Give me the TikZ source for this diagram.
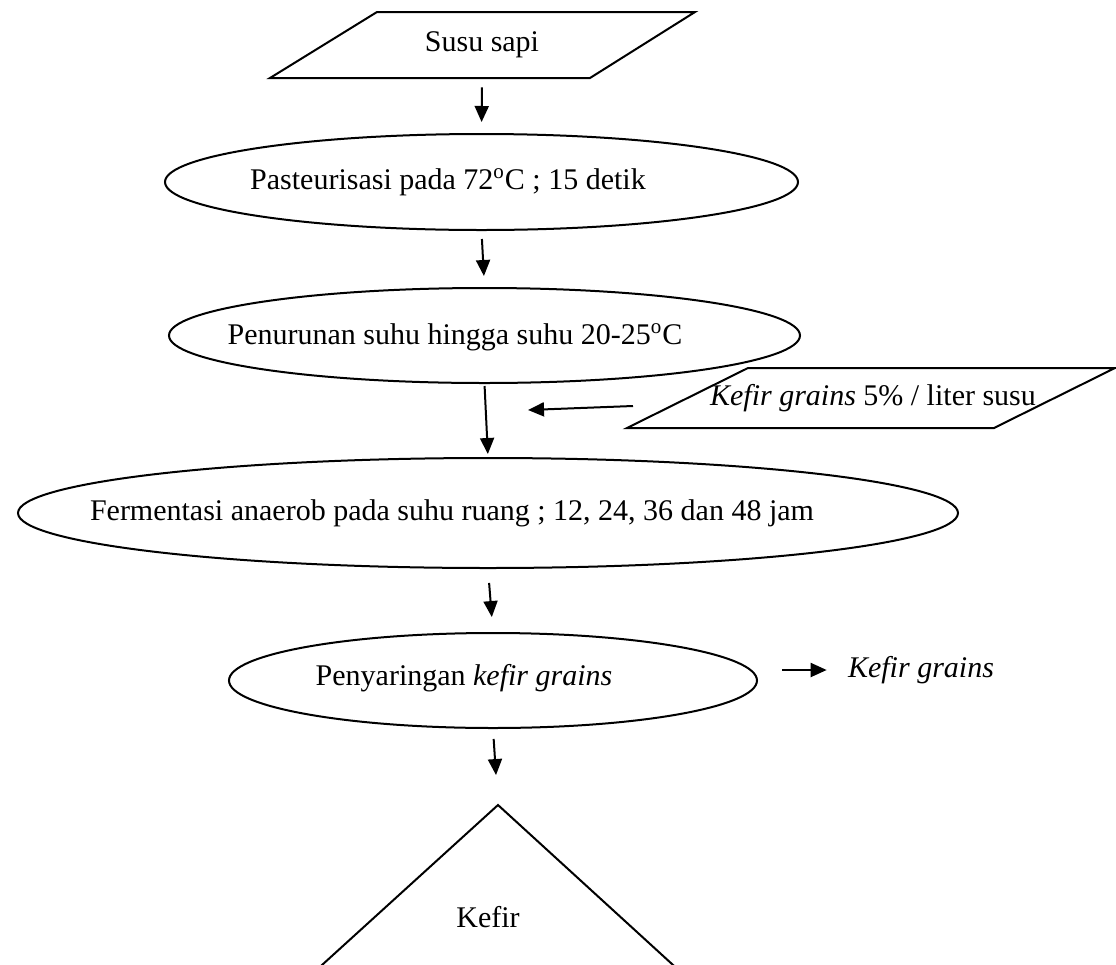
\documentclass[tikz,border=0pt]{standalone}
\usepackage{fontspec}
\setmainfont{Liberation Serif}
\usetikzlibrary{calc,arrows.meta,shapes.geometric}

\tikzset{
  proses/.style={draw, ellipse, line width=1pt, inner sep=0pt},
  teks/.style={inner sep=0pt},
  panah/.style={-{Triangle[length=8pt,width=7pt]}, line width=1pt},
  garis/.style={line width=1pt, line join=miter}
}

\begin{document}
\begin{tikzpicture}[x=0.5pt,y=-0.5pt,font=\fontsize{15}{18}\selectfont]
\useasboundingbox (0,0) rectangle (1116,965);
% bahan masuk
\draw[garis] (270,78) -- (377,12) -- (695,12) -- (590,78) -- cycle;
\node[teks, minimum height=33pt] (susu) at (482,45) {Susu sapi};
\draw[garis] (627,428) -- (748,368) -- (1115,368) -- (994,428) -- cycle;
\node[teks] (bibit) at (873,398) {\textit{Kefir grains} 5\% / liter susu};
% tahap proses
\foreach \nama/\x/\y/\w/\h in {
    pas/481.5/182/633/96,
    pen/484.5/335.5/631/95,
    fer/488/513/940/110,
    sar/493/680.5/528/95%
}{
  \node[proses, minimum width=\w*0.5pt, minimum height=\h*0.5pt] (\nama) at (\x,\y) {};
}
\node[teks] (tpas) at (448,182) {Pasteurisasi pada 72\textsuperscript{o}C ; 15 detik};
\node[teks] (tpen) at (455,337) {Penurunan suhu hingga suhu 20-25\textsuperscript{o}C};
\node[teks] (tfer) at (452,513) {Fermentasi anaerob pada suhu ruang ; 12, 24, 36 dan 48 jam};
\node[teks] (tsar) at (464,678) {Penyaringan \textit{kefir grains}};
\node[teks] (ampas) at (921,670) {\textit{Kefir grains}};
% hasil
\coordinate (puncak) at (498,805);
\draw[garis] ($(puncak)+(-187,170)$) -- (puncak) -- ($(puncak)+(186,170)$);
\node[teks] (hasil) at (488,917) {Kefir};
% panah
\draw[panah, shorten <=4.5pt, shorten >=5.5pt] (susu.south) -- (pas.north);
\draw[panah, shorten <=4pt, shorten >=5.5pt] (pas.south) -- (pen.north);
\draw[panah, shorten <=1pt, shorten >=1.5pt] (pen.south) -- (fer.north);
\draw[panah, shorten <=7pt, shorten >=7.5pt] (fer.south) -- (sar.north);
\draw[panah, shorten <=5pt, shorten >=15pt] (sar.south) -- (puncak);
\coordinate (asal) at (633,406);
\coordinate (masuk) at (528,410);
\draw[panah] (asal) -- (masuk);
\draw[panah, shorten <=12pt, shorten >=10.5pt] (ampas.west -| sar.east) -- (ampas.west);
\end{tikzpicture}
\end{document}
